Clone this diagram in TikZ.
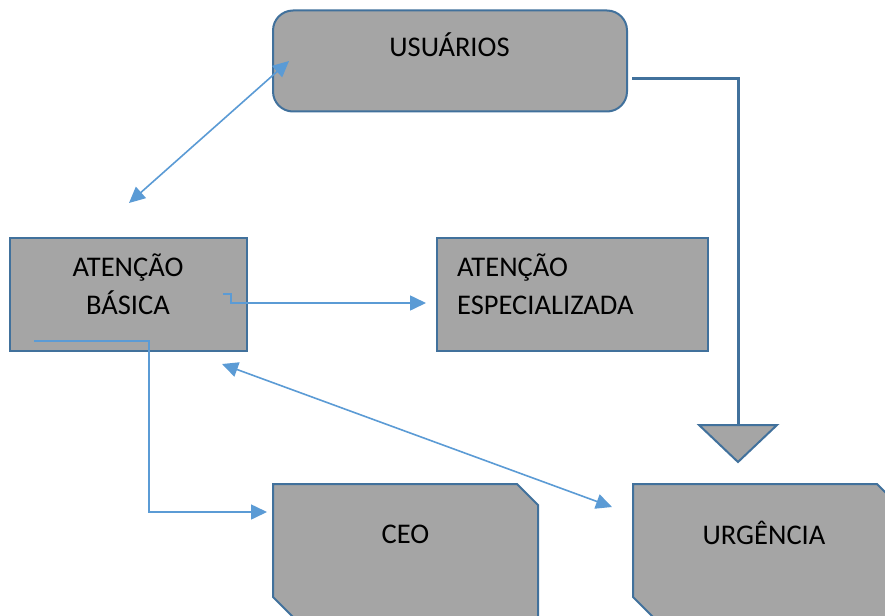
\documentclass[tikz,border=0pt]{standalone}
\usepackage{fontspec}
\setmainfont{Carlito}
\usetikzlibrary{arrows.meta,calc}
\definecolor{boxfill}{HTML}{A5A5A5}
\definecolor{boxline}{HTML}{41719C}
\definecolor{conn}{HTML}{5B9BD5}
\begin{document}
\begin{tikzpicture}[x=1pt,y=-1pt,
  box/.style={draw=boxline, line width=2pt, fill=boxfill, inner sep=0pt, outer sep=0pt},
  frame/.style={inner sep=0pt, outer sep=0pt},
  lbl/.style={font=\fontsize{28.5}{38}\selectfont, inner sep=0pt, anchor=base},
  lblw/.style={lbl, anchor=base west},
  link/.style={draw=conn, line width=1.6pt, -{Triangle[length=16pt,width=15pt]}},
  dlink/.style={draw=conn, line width=1.6pt, {Triangle[length=16pt,width=15pt]}-{Triangle[length=16pt,width=15pt]}},
  flow/.style={draw=boxline, line width=3pt}
]
\clip (0,0) rectangle (885,615);
\fill[white] (0,0) rectangle (885,615);

% boxes
\node[box, rounded corners=20pt, minimum width=354pt, minimum height=101pt] (usu) at (450,61) {};
\node[box, minimum width=237pt, minimum height=113pt] (ab) at (128.5,294.5) {};
\node[box, minimum width=271pt, minimum height=113pt] (ae) at (572.5,294.5) {};
\node[frame, minimum width=265pt, minimum height=134pt] (ceo) at (405.5,551) {};
\node[frame, minimum width=265pt, minimum height=134pt] (urg) at (765.5,551) {};
\foreach \n in {ceo,urg}{
  \draw[box, line join=miter]
    ($(\n.north west)$) -- ($(\n.north east)+(-21,0)$) -- ($(\n.north east)+(0,21)$)
    -- ($(\n.south east)$) -- ($(\n.south west)+(21,0)$) -- ($(\n.south west)+(0,-21)$) -- cycle;
}

% labels
\node[lbl] (tusu) at (449.5,57) {USUÁRIOS};
\node[lbl] (tab1) at (128,276) {ATENÇÃO};
\node[lbl] (tab2) at (128,314) {BÁSICA};
\node[lblw] (tae1) at (457,276) {ATENÇÃO};
\node[lblw] (tae2) at (457,314) {ESPECIALIZADA};
\node[lbl] (tceo) at (405.5,543) {CEO};
\node[lbl] (turg) at (764,544) {URGÊNCIA};

% connector end points
\coordinate (u1) at (289,61);
\coordinate (a1) at (129,203);
\coordinate (b1) at (223,294);
\coordinate (e1) at (426,303);
\coordinate (b2) at (34,341);
\coordinate (c1) at (267,512);
\coordinate (b3) at (222,364);
\coordinate (r1) at (612,507);
\coordinate (u2) at (632,79);
\coordinate (t1) at (738,425);

% connectors
\draw[dlink] (a1) -- (u1);
\draw[link] (b1) -- ++(8,0) -- ++(0,9) -- (e1);
\draw[link] (b2) -- ++(115,0) |- (c1);
\draw[dlink] (b3) -- (r1);
\draw[flow] (u2) -| (t1);
\draw[box, line join=miter] (699,425) -- (777,425) -- (738,462) -- cycle;
\end{tikzpicture}
\end{document}
